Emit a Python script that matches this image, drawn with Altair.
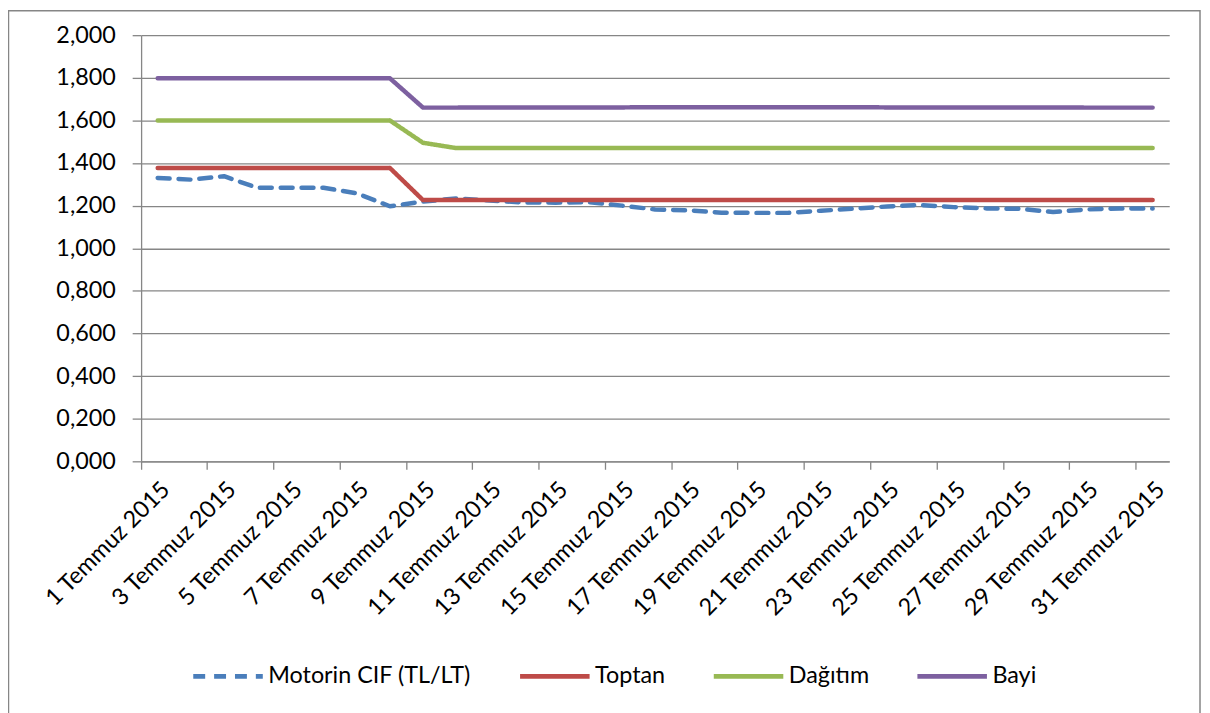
import altair as alt
import pandas as pd

days = [1, 2, 3, 4, 5, 6, 7, 8, 9, 10, 11, 12, 13, 14, 15, 16,
        17, 18, 19, 20, 21, 22, 23, 24, 25, 26, 27, 28, 29, 30, 31]
label_days = [1, 3, 5, 7, 9, 11, 13, 15, 17, 19, 21, 23, 25, 27, 29, 31]
y_ticks = [0.0, 0.2, 0.4, 0.6, 0.8, 1.0, 1.2, 1.4, 1.6, 1.8, 2.0]

motorin = [1.330, 1.322, 1.338, 1.284, 1.284, 1.284, 1.258, 1.197, 1.219, 1.234,
           1.224, 1.215, 1.214, 1.216, 1.200, 1.182, 1.178, 1.167, 1.166, 1.166,
           1.176, 1.186, 1.196, 1.203, 1.193, 1.187, 1.185, 1.170, 1.182, 1.187, 1.187]
toptan = [1.377, 1.377, 1.377, 1.377, 1.377, 1.377, 1.377, 1.377, 1.226, 1.226,
          1.226, 1.226, 1.226, 1.226, 1.226, 1.226, 1.226, 1.226, 1.226, 1.226,
          1.226, 1.226, 1.226, 1.226, 1.226, 1.226, 1.226, 1.226, 1.226, 1.226, 1.226]
dagitim = [1.600, 1.600, 1.600, 1.600, 1.600, 1.600, 1.600, 1.600, 1.495, 1.470,
           1.470, 1.470, 1.470, 1.470, 1.470, 1.470, 1.470, 1.470, 1.470, 1.470,
           1.470, 1.470, 1.470, 1.470, 1.470, 1.470, 1.470, 1.470, 1.470, 1.470, 1.470]
bayi = [1.798, 1.798, 1.798, 1.798, 1.798, 1.798, 1.798, 1.798, 1.660, 1.660,
        1.661, 1.661, 1.661, 1.661, 1.661, 1.662, 1.662, 1.662, 1.662, 1.662,
        1.662, 1.662, 1.661, 1.661, 1.661, 1.661, 1.661, 1.661, 1.660, 1.660, 1.660]

series_names = ["Motorin CIF (TL/LT)", "Toptan", "Dağıtım", "Bayi"]
series_colors = ["#4A7EBB", "#BE4B48", "#98B954", "#7D60A0"]
series_dash = [[12, 9], [1, 0], [1, 0], [1, 0]]

rows = []
for name, vals in zip(series_names, [motorin, toptan, dagitim, bayi]):
    for d, v in zip(days, vals):
        rows.append({"day": d, "value": v, "series": name})
df = pd.DataFrame(rows)

FONT = "Lato"
FS = 23.5
GRAY = "#868686"
W, H = 1035, 429

legend = alt.Legend(
    title=None, orient="none", legendX=50, legendY=608, direction="horizontal",
    symbolType="stroke", symbolSize=4900, symbolStrokeWidth=5,
    labelFont=FONT, labelFontSize=FS, labelColor="black", labelOffset=3,
    columnPadding=38, labelLimit=400,
)

x = alt.X(
    "day:O",
    scale=alt.Scale(type="band", paddingInner=0, paddingOuter=0),
    bandPosition=0.5,
    title=None,
    axis=alt.Axis(
        values=label_days,
        labelExpr="datum.value + ' Temmuz 2015'",
        labelAngle=-45, labelAlign="right", labelBaseline="top",
        labelPadding=8, bandPosition=0, tickSize=8, grid=False,
        labelFont=FONT, labelFontSize=FS, labelColor="black",
        domainColor=GRAY, tickColor=GRAY, domainWidth=1.3, tickWidth=1.3,
    ),
)
y = alt.Y(
    "value:Q",
    scale=alt.Scale(domain=[0, 2], nice=False, zero=True),
    title=None,
    axis=alt.Axis(
        values=y_ticks,
        labelExpr="replace(format(datum.value, '.3f'), '.', ',')",
        labelFont=FONT, labelFontSize=FS, labelColor="black", labelPadding=17,
        tickSize=9, grid=True, gridColor=GRAY, gridWidth=1.3,
        domainColor=GRAY, tickColor=GRAY, domainWidth=1.3, tickWidth=1.3,
    ),
)

lines = alt.Chart(df).mark_line(strokeWidth=4.5, strokeCap="round", strokeJoin="round").encode(
    x=x,
    y=y,
    color=alt.Color("series:N", scale=alt.Scale(domain=series_names, range=series_colors), legend=legend),
    strokeDash=alt.StrokeDash("series:N", scale=alt.Scale(domain=series_names, range=series_dash), legend=legend),
)

border = alt.Chart(alt.Data(values=[{}])).mark_rect(
    fillOpacity=0, stroke=GRAY, strokeWidth=1.5
).encode(
    x=alt.value(-133.5), x2=alt.value(1066), y=alt.value(-24.5), y2=alt.value(720)
)

chart = alt.layer(border, lines).properties(
    width=W, height=H,
    autosize=alt.AutoSizeParams(type="none"),
    padding={"left": 134, "top": 25, "right": 33, "bottom": 251},
).configure_view(stroke=None)

chart.save("out.html", embed_options={"renderer": "svg", "actions": False})
